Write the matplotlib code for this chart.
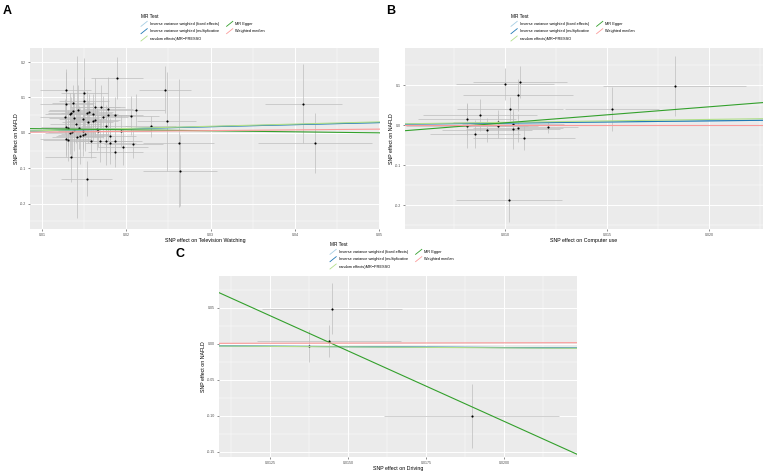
import matplotlib
matplotlib.use("Agg")
import matplotlib.pyplot as plt
from matplotlib.lines import Line2D
from matplotlib.legend_handler import HandlerBase

plt.rcParams['font.family'] = ['Liberation Sans', 'DejaVu Sans']
plt.rcParams['axes.unicode_minus'] = False

# --- MR methods (legend order) and colours ---
methods = ["Inverse variance weighted (fixed effects)",
           "Inverse variance weighted (multiplicative",
           "random effects)MR\u2212PRESSO",
           "MR Egger",
           "Weighted median"]
method_colors = ["#a6cee3", "#1f78b4", "#b2df8a", "#33a02c", "#fb9a99"]

# --- Panel A: Television Watching ---
a_x = [0.0128, 0.0189, 0.0150, 0.0150, 0.0129, 0.0137, 0.0163, 0.0170, 0.0143, 0.0137,
       0.0178, 0.0211, 0.0153, 0.0156, 0.0133, 0.0134, 0.0160, 0.0187, 0.0178, 0.0172,
       0.0205, 0.0127, 0.0138, 0.0148, 0.0154, 0.0160, 0.0163, 0.0176, 0.0129, 0.0131,
       0.0144, 0.0138, 0.0135, 0.0133, 0.0149, 0.0165, 0.0194, 0.0229, 0.0248, 0.0246,
       0.0264, 0.0262, 0.0128, 0.0131, 0.0145, 0.0149, 0.0158, 0.0169, 0.0176, 0.0181,
       0.0186, 0.0181, 0.0187, 0.0196, 0.0208, 0.0134, 0.0153, 0.0410, 0.0424, 0.0142,
       0.0151, 0.0140, 0.0166]
a_y = [0.122, 0.155, 0.112, 0.089, 0.082, 0.084, 0.0745, 0.0745, 0.065, 0.062,
       0.067, 0.064, 0.0575, 0.0595, 0.054, 0.0575, 0.054, 0.051, 0.051, 0.0445,
       0.048, 0.046, 0.0425, 0.039, 0.031, 0.033, 0.037, 0.020, 0.016, 0.014,
       0.015, 0.0085, 0.003, -0.001, 0.005, 0.0105, 0.005, 0.018, 0.033, 0.122,
       -0.107, -0.029, -0.018, -0.020, -0.0085, -0.0065, -0.022, -0.022, -0.022, -0.0085,
       -0.0235, -0.029, -0.053, -0.0405, -0.032, -0.069, -0.130, 0.083, -0.029, -0.012,
       -0.002, 0.026, 0.005]
a_se_x = [0.0030, 0.0031, 0.0028, 0.0030, 0.0032, 0.0025, 0.0030, 0.0028, 0.0035, 0.0030,
          0.0030, 0.0035, 0.0030, 0.0028, 0.0030, 0.0027, 0.0030, 0.0033, 0.0030, 0.0030,
          0.0034, 0.0030, 0.0030, 0.0028, 0.0030, 0.0030, 0.0030, 0.0030, 0.0030, 0.0028,
          0.0030, 0.0030, 0.0028, 0.0030, 0.0030, 0.0030, 0.0035, 0.0030, 0.0035, 0.0031,
          0.0044, 0.0042, 0.0030, 0.0030, 0.0028, 0.0030, 0.0030, 0.0030, 0.0032, 0.0030,
          0.0033, 0.0030, 0.0033, 0.0030, 0.0035, 0.0030, 0.0030, 0.0046, 0.0068, 0.0030,
          0.0028, 0.0030, 0.0030]
a_se_y = [0.060, 0.060, 0.100, 0.070, 0.090, 0.050, 0.080, 0.060, 0.070, 0.050,
          0.090, 0.047, 0.060, 0.050, 0.060, 0.045, 0.055, 0.050, 0.045, 0.060,
          0.055, 0.050, 0.070, 0.080, 0.060, 0.055, 0.050, 0.060, 0.080, 0.050,
          0.060, 0.060, 0.070, 0.060, 0.050, 0.060, 0.045, 0.030, 0.140, 0.067,
          0.100, 0.180, 0.050, 0.060, 0.080, 0.060, 0.050, 0.060, 0.070, 0.050,
          0.050, 0.060, 0.045, 0.050, 0.040, 0.070, 0.050, 0.112, 0.084, 0.230,
          0.050, 0.055, 0.045]
a_intercepts = [0.0, 0.0, 0.0, 0.0145, 0.0]
a_slopes = [0.58, 0.58, 0.62, -0.29, 0.21]

# --- Panel B: Computer use ---
b_x = [0.0100, 0.01074, 0.01062, 0.01025, 0.00878, 0.00814, 0.00814, 0.00964, 0.00964, 0.01039,
       0.01039, 0.01065, 0.00912, 0.00853, 0.01092, 0.01209, 0.0102, 0.01523, 0.01832]
b_y = [0.103, 0.1075, 0.0765, 0.041, 0.0265, 0.0165, -0.002, 0.0075, -0.001, 0.003,
       -0.0085, -0.006, -0.011, -0.0225, -0.032, -0.0035, -0.187, 0.040, 0.099]
b_se_x = [0.0024, 0.0023, 0.0027, 0.0026, 0.0028, 0.0024, 0.0030, 0.0022, 0.0020, 0.0025,
          0.0023, 0.0022, 0.0022, 0.0022, 0.0025, 0.0015, 0.0026, 0.0023, 0.0035]
b_se_y = [0.040, 0.040, 0.040, 0.030, 0.040, 0.040, 0.055, 0.030, 0.030, 0.030,
          0.050, 0.035, 0.030, 0.035, 0.030, 0.015, 0.054, 0.055, 0.075]
b_intercepts = [0.0, 0.0, 0.0, -0.0339, 0.0]
b_slopes = [0.55, 0.55, 0.73, 4.0, 0.0]

# --- Panel C: Driving ---
c_x = [0.01448, 0.01439, 0.01375, 0.01897]
c_y = [0.049, 0.0042, -0.0028, -0.100]
c_se_x = [0.00224, 0.0023, 0.0004, 0.0028]
c_se_y = [0.035, 0.0225, 0.022, 0.045]
c_intercepts = [0.0, 0.0, 0.0, 0.284, 0.0]
c_slopes = [-0.25, -0.25, -0.27, -19.57, 0.08]


class DiagonalKey(HandlerBase):
    """ggplot-style abline key: a diagonal stroke."""
    def create_artists(self, legend, orig_handle, xdescent, ydescent,
                       width, height, fontsize, trans):
        line = Line2D([-xdescent, -xdescent + width], [-ydescent, -ydescent + height],
                      color=orig_handle.get_color(), lw=0.6, transform=trans)
        return [line]


def draw_panel(fig, rect, x, y, se_x, se_y, intercepts, slopes,
               xlim, ylim, xticks, xlabels, xminor, yticks, ylabels, yminor, xlabel):
    ax = fig.add_axes(rect)
    ax.set_facecolor("#EBEBEB")
    for s in ax.spines.values():
        s.set_visible(False)
    # grid like theme_grey
    ax.set_xticks(xticks)
    ax.set_xticklabels(xlabels)
    ax.set_yticks(yticks)
    ax.set_yticklabels(ylabels)
    ax.set_xticks(xminor, minor=True)
    ax.set_yticks(yminor, minor=True)
    ax.grid(which="major", color="white", lw=0.7)
    ax.grid(which="minor", color="white", lw=0.35)
    ax.set_axisbelow(True)
    ax.tick_params(which="major", length=1.5, width=0.4, color="#333333",
                   labelsize=2.6, labelcolor="#4D4D4D", pad=1.5)
    ax.tick_params(which="minor", length=0)

    ax.errorbar(x, y, xerr=se_x, yerr=se_y, fmt="none", ecolor="#BEBEBE",
                elinewidth=0.5, capsize=0, zorder=2)
    ax.scatter(x, y, s=2.4, color="black", zorder=3, linewidths=0)

    handles = []
    for b0, b1, col, name in zip(intercepts, slopes, method_colors, methods):
        ax.axline((0, b0), slope=b1, color=col, lw=0.8, zorder=4)
        handles.append(Line2D([], [], color=col, label=name))

    ax.set_xlim(*xlim)
    ax.set_ylim(*ylim)
    ax.set_xlabel(xlabel, fontsize=3.8, labelpad=0.5)
    ax.set_ylabel("SNP effect on NAFLD", fontsize=3.8, labelpad=0.5)
    return ax, handles


def add_legend(fig, handles, x0, y0):
    leg = fig.legend(handles=handles, loc="upper left", bbox_to_anchor=(x0, y0),
                     ncol=2, frameon=False, title="MR Test", fontsize=2.8,
                     title_fontsize=3.4, handlelength=1.6, handleheight=1.6,
                     handletextpad=0.6, labelspacing=0.6, columnspacing=2.0,
                     borderpad=0, borderaxespad=0,
                     handler_map={Line2D: DiagonalKey()})
    leg._legend_box.align = "left"
    return leg


W, H = 767, 471
fig = plt.figure(figsize=(W / 100, H / 100), dpi=100)

# Panel A
ax_a, h_a = draw_panel(fig, [30 / W, 1 - 229 / H, 350 / W, 181 / H],
                       a_x, a_y, a_se_x, a_se_y, a_intercepts, a_slopes,
                       (0.00857, 0.0501), (-0.272, 0.24),
                       [0.01, 0.02, 0.03, 0.04, 0.05], ["0.01", "0.02", "0.03", "0.04", "0.05"],
                       [0.015, 0.025, 0.035, 0.045],
                       [-0.2, -0.1, 0.0, 0.1, 0.2], ["-0.2", "-0.1", "0.0", "0.1", "0.2"],
                       [-0.25, -0.15, -0.05, 0.05, 0.15],
                       "SNP effect on Television Watching")
add_legend(fig, h_a, 141 / W, 1 - 14 / H)
fig.text(3 / W, 1 - 5 / H, "A", fontsize=9, fontweight="bold", va="top")

# Panel B
ax_b, h_b = draw_panel(fig, [405 / W, 1 - 229 / H, 358 / W, 181 / H],
                       b_x, b_y, b_se_x, b_se_y, b_intercepts, b_slopes,
                       (0.0051, 0.02265), (-0.259, 0.193),
                       [0.010, 0.015, 0.020], ["0.010", "0.015", "0.020"],
                       [0.0075, 0.0125, 0.0175, 0.0225],
                       [-0.2, -0.1, 0.0, 0.1], ["-0.2", "-0.1", "0.0", "0.1"],
                       [-0.25, -0.15, -0.05, 0.05, 0.15],
                       "SNP effect on Computer use")
add_legend(fig, h_b, 511 / W, 1 - 14 / H)
fig.text(386 / W, 1 - 5 / H, "B", fontsize=9, fontweight="bold", va="top")

# Panel C
ax_c, h_c = draw_panel(fig, [219 / W, 1 - 457 / H, 358 / W, 181 / H],
                       c_x, c_y, c_se_x, c_se_y, c_intercepts, c_slopes,
                       (0.01087, 0.02234), (-0.157, 0.0944),
                       [0.0125, 0.0150, 0.0175, 0.0200], ["0.0125", "0.0150", "0.0175", "0.0200"],
                       [0.01125, 0.01375, 0.01625, 0.01875, 0.02125],
                       [-0.15, -0.10, -0.05, 0.0, 0.05], ["-0.15", "-0.10", "-0.05", "0.00", "0.05"],
                       [-0.125, -0.075, -0.025, 0.025, 0.075],
                       "SNP effect on Driving")
add_legend(fig, h_c, 330 / W, 1 - 242 / H)
fig.text(176 / W, 1 - 248 / H, "C", fontsize=9, fontweight="bold", va="top")

fig.savefig("out.png", dpi=100, facecolor="white")
